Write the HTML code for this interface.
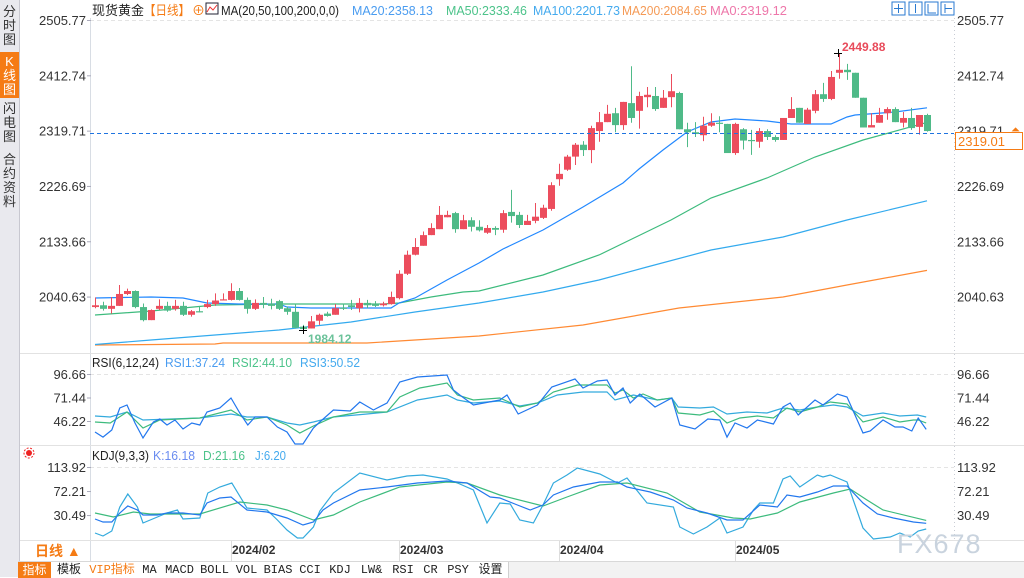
<!DOCTYPE html>
<html><head><meta charset="utf-8">
<style>
body{margin:0;width:1024px;height:577px;overflow:hidden;background:#fff;font-family:"Liberation Sans","Noto Sans CJK SC",sans-serif;position:relative}
.side{position:absolute;left:0;top:0;width:19px;height:577px;background:#e9e9ee;border-right:1px solid #c8c8d0}
.tab{position:absolute;left:0;width:19px;font-size:13px;line-height:14px;text-align:center;color:#333}
.tb{position:absolute;top:561px;height:16px;left:18px;right:0;background:#f2f2f2;border-top:1px solid #d8d8d8}
.cell{position:absolute;top:0;height:16px;font:12px "Liberation Mono","Noto Sans CJK SC",monospace;line-height:16px;text-align:center;color:#222;border-right:1px solid #d0d0d0;background:#fff}
svg text{font-family:"Liberation Sans","Noto Sans CJK SC",sans-serif}
</style></head><body>
<div class="side">
 <div class="tab" style="top:5px">分<br>时<br>图</div>
 <div class="tab" style="top:52px;height:46px;background:#f57b14;color:#fff;padding-top:3px;box-sizing:border-box">K<br>线<br>图</div>
 <div class="tab" style="top:102px">闪<br>电<br>图</div>
 <div class="tab" style="top:153px">合<br>约<br>资<br>料</div>
</div>
<div class="tb">
 <div class="cell" style="left:0;width:33px;background:#f57b14;color:#fff;font-family:'Noto Sans CJK SC',sans-serif">指标</div>
 <div class="cell" style="left:33px;width:36px">模板</div>
 <div class="cell" style="left:69px;width:50px;color:#f57b14">VIP指标</div>
 <div class="cell" style="left:119px;width:25px">MA</div>
 <div class="cell" style="left:144px;width:35px">MACD</div>
 <div class="cell" style="left:179px;width:35px">BOLL</div>
 <div class="cell" style="left:214px;width:29px">VOL</div>
 <div class="cell" style="left:243px;width:34px">BIAS</div>
 <div class="cell" style="left:277px;width:30px">CCI</div>
 <div class="cell" style="left:307px;width:30px">KDJ</div>
 <div class="cell" style="left:337px;width:33px">LW&amp;</div>
 <div class="cell" style="left:370px;width:30px">RSI</div>
 <div class="cell" style="left:400px;width:25px">CR</div>
 <div class="cell" style="left:425px;width:30px">PSY</div>
 <div class="cell" style="left:455px;width:35px">设置</div>
</div>
<svg id="chart" width="1024" height="561" style="position:absolute;left:0;top:0">
 <g id="frame">
  <line x1="90.5" y1="18" x2="90.5" y2="541" stroke="#d8dde4"/>
  <line x1="954.5" y1="18" x2="954.5" y2="541" stroke="#c8ccd4" stroke-dasharray="1,3"/>
  <line x1="20" y1="353.5" x2="1024" y2="353.5" stroke="#e2e2e2"/>
  <line x1="20" y1="445.5" x2="1024" y2="445.5" stroke="#e2e2e2"/>
  <line x1="20" y1="540.5" x2="1024" y2="540.5" stroke="#e2e2e2"/>
  <line x1="90" y1="20.5" x2="954" y2="20.5" stroke="#e4e4e4" stroke-dasharray="4,3"/>
  <line x1="90" y1="374.5" x2="954" y2="374.5" stroke="#e4e4e4" stroke-dasharray="4,3"/>
  <line x1="90" y1="467.5" x2="954" y2="467.5" stroke="#e4e4e4" stroke-dasharray="4,3"/>
 </g>
 <g font-size="13" fill="#222">
  <text x="92" y="15" textLength="52" lengthAdjust="spacingAndGlyphs">现货黄金</text>
  <text x="144" y="15" fill="#f57b14" textLength="46" lengthAdjust="spacingAndGlyphs">【日线】</text>
  <text x="192" y="15" fill="#f57b14">⊕</text>
  <rect x="206" y="3" width="12" height="11" fill="#fff" stroke="#223"/>
  <polyline points="207,12 210,7 213,10 217,5" fill="none" stroke="#e33" stroke-width="1"/>
  <text x="221" y="15" textLength="118" lengthAdjust="spacingAndGlyphs">MA(20,50,100,200,0,0)</text>
  <text x="352" y="15" fill="#4a9cf0" textLength="81" lengthAdjust="spacingAndGlyphs">MA20:2358.13</text>
  <text x="446" y="15" fill="#4cc38a" textLength="81" lengthAdjust="spacingAndGlyphs">MA50:2333.46</text>
  <text x="533" y="15" fill="#44aaee" textLength="87" lengthAdjust="spacingAndGlyphs">MA100:2201.73</text>
  <text x="622" y="15" fill="#f59a55" textLength="85" lengthAdjust="spacingAndGlyphs">MA200:2084.65</text>
  <text x="710" y="15" fill="#ee77aa" textLength="77" lengthAdjust="spacingAndGlyphs">MA0:2319.12</text>
  <text x="92" y="367" textLength="67" lengthAdjust="spacingAndGlyphs">RSI(6,12,24)</text>
  <text x="165" y="367" fill="#4a9cf0" textLength="60" lengthAdjust="spacingAndGlyphs">RSI1:37.24</text>
  <text x="232" y="367" fill="#4cc38a" textLength="60" lengthAdjust="spacingAndGlyphs">RSI2:44.10</text>
  <text x="300" y="367" fill="#44aaee" textLength="60" lengthAdjust="spacingAndGlyphs">RSI3:50.52</text>
  <text x="92" y="460" textLength="57" lengthAdjust="spacingAndGlyphs">KDJ(9,3,3)</text>
  <text x="153" y="460" fill="#6a8cf0" textLength="42" lengthAdjust="spacingAndGlyphs">K:16.18</text>
  <text x="203" y="460" fill="#4cc38a" textLength="42" lengthAdjust="spacingAndGlyphs">D:21.16</text>
  <text x="255" y="460" fill="#44aaee" textLength="31" lengthAdjust="spacingAndGlyphs">J:6.20</text>
 </g>
 <g><circle cx="29" cy="453" r="3" fill="#e22"/><circle cx="29" cy="453" r="5" fill="none" stroke="#e22" stroke-dasharray="2,1.5"/></g>
 <g fill="none" stroke="#2a7ad0">
  <rect x="892" y="2" width="13" height="13"/><rect x="909" y="2" width="13" height="13"/><rect x="925" y="2" width="13" height="13"/><rect x="941" y="2" width="13" height="13"/>
  <path d="M898.5 4v9M894 8.5h9M915.5 4v9M928 4v9h8M945 4v9M945 8.5h7"/>
 </g>
 <g id="axes" font-size="13" fill="#333"></g>
 <g id="dates" font-size="12" font-weight="bold" fill="#333"></g>
 <g id="mas"></g>
 <g id="candles"></g>
 <g id="ind"></g>
 <line x1="90" y1="133.5" x2="954" y2="133.5" stroke="#1f74e0" stroke-dasharray="4,3"/>
 <rect x="955.5" y="132.5" width="67" height="17" fill="#fff" stroke="#f57b14"/>
 <text x="958" y="146" font-size="13" fill="#f57b14">2319.01</text>
 <text x="1011" y="133" font-size="11" fill="#f57b14">⏶</text>
 <text x="842" y="51" font-size="12" font-weight="bold" fill="#e84a5a">2449.88</text>
 <text x="308" y="343" font-size="12" font-weight="bold" fill="#6cc29a">1984.12</text>
 <path d="M834 53.5h8M838.5 49v8M299 330.5h8M303.5 326v8" stroke="#000"/>
 <text x="897" y="553" font-size="27" fill="#c9d3de" letter-spacing="1">FX678</text>
 <text x="35" y="556" font-size="14" font-weight="bold" fill="#f57b14">日线 ▲</text>
 <line x1="90.5" y1="541" x2="90.5" y2="561" stroke="#d8dde4"/>
</svg>
<script>
const opens=[2023,2026,2020,2025,2045,2050,2023,2001,2020,2025,2020,2025,2010,2016,2023,2028,2034,2035,2050,2035,2020,2030,2029,2033,2021,2015,1990,1987,2000,2012,2010,2022,2026,2021,2030,2029,2026,2028,2038,2079,2111,2126,2144,2154,2174,2181,2154,2169,2158,2148,2156,2153,2183,2178,2161,2168,2173,2188,2238,2254,2276,2296,2287,2319,2334,2349,2329,2366,2353,2376,2378,2358,2376,2383,2322,2317,2312,2328,2333,2331,2282,2322,2304,2301,2319,2309,2304,2341,2358,2331,2353,2381,2373,2417,2422,2417,2375,2325,2333,2349,2356,2333,2341,2326,2346];
const closes=[2026,2020,2025,2045,2050,2023,2001,2018,2025,2017,2025,2010,2016,2014,2028,2034,2036,2050,2035,2020,2030,2027,2025,2020,2015,1988,1986,1999,2010,2008,2021,2020,2023,2030,2026,2025,2029,2040,2079,2111,2124,2144,2156,2178,2178,2154,2169,2158,2152,2156,2153,2181,2176,2161,2168,2175,2190,2228,2247,2276,2296,2287,2324,2334,2348,2329,2368,2341,2378,2380,2356,2375,2386,2322,2317,2314,2328,2333,2331,2282,2331,2303,2302,2319,2309,2304,2341,2356,2333,2355,2381,2373,2410,2422,2418,2375,2325,2329,2346,2356,2334,2341,2324,2346,2319.01];
const highs=[2039,2032,2040,2060,2054,2051,2029,2019,2036,2032,2035,2032,2018,2024,2035,2046,2046,2063,2055,2039,2036,2040,2037,2035,2024,2029,1993,2008,2012,2015,2028,2029,2035,2038,2035,2033,2032,2049,2085,2118,2139,2150,2164,2193,2185,2183,2178,2174,2169,2161,2159,2186,2220,2183,2178,2198,2195,2233,2264,2279,2299,2302,2328,2351,2363,2358,2368,2428,2385,2393,2393,2388,2415,2385,2333,2334,2343,2349,2344,2331,2333,2324,2321,2324,2322,2312,2341,2376,2358,2358,2388,2400,2420,2449.88,2432,2417,2375,2349,2358,2359,2359,2351,2358,2346,2348];
const lows=[2021,2017,2012,2025,2043,2021,1999,2001,2018,2015,2017,2008,2007,2014,2021,2025,2034,2034,2034,2012,2018,2021,2019,2018,2010,1987,1984.12,1987,1993,2007,2010,2018,2018,2014,2021,2023,2024,2027,2036,2077,2110,2126,2144,2154,2174,2148,2154,2150,2150,2146,2144,2148,2165,2156,2161,2164,2171,2185,2227,2252,2262,2277,2265,2301,2334,2317,2321,2333,2323,2359,2353,2358,2359,2322,2292,2309,2302,2326,2317,2282,2279,2288,2279,2291,2304,2301,2304,2341,2333,2331,2349,2368,2371,2407,2405,2375,2325,2325,2333,2338,2334,2325,2321,2313,2318];
const ma20Idx=[0,7,11,14,18,23,24,27,37,38,40,44,48,51,56,61,66,68,71,74,77,80,84,87,92,94,95,100,104];
const ma20Val=[2038.2,2039.9,2038.2,2029.8,2028.1,2028.1,2023.1,2021.4,2021.4,2029.8,2038.2,2068.5,2097.1,2120.6,2152.6,2191.3,2231.6,2255.2,2287.1,2317.4,2334.2,2339.3,2335.9,2330.9,2330.9,2342.6,2346.0,2351.0,2358.1];
const ma50Idx=[0,7,11,15,23,36,38,42,46,48,56,63,72,77,84,90,96,104];
const ma50Val=[2009.6,2016.4,2021.4,2026.5,2028.1,2028.1,2029.8,2039.9,2048.3,2050.0,2076.9,2110.5,2169.4,2206.4,2240.0,2275.4,2303.9,2333.5];
const ma100Idx=[0,7,15,23,32,40,48,56,63,69,77,86,94,104];
const ma100Val=[1960.0,1967.6,1976.0,1984.4,1997.9,2014.7,2029.8,2048.3,2068.5,2090.4,2118.9,2140.8,2169.4,2201.7];
const ma200Idx=[0,15,16,34,40,48,61,73,86,94,104];
const ma200Val=[1959.2,1960.9,1962.6,1962.6,1967.6,1974.3,1992.8,2021.4,2039.9,2060.1,2084.6];
const rsi1Idx=[0,1,2.1,3.1,4,5,6,7.3,8.1,9,10,11,12.1,13.1,14,15.6,17,18.1,19.1,20,21.5,22.8,24,25,26,27.3,28.1,29.8,31.9,33.1,34.8,36.5,38.1,40.3,44,44.8,45.6,47.3,50.6,51.5,52.9,55.3,57.1,60,61,62.8,64,65,66,66.9,68.1,70,72.1,73.1,75,76.6,78.1,79,80,81.5,82.8,84.8,86,86.9,87.9,90,91,92.8,94,96,96.9,98.5,100,101,102.1,102.9,103.9];
const rsi1Val=[34.4,29.0,36.6,60.2,63.4,44.1,28.0,45.2,48.4,41.9,47.3,37.6,44.1,41.9,55.9,60.2,70.9,54.8,41.9,50.5,50.5,39.8,34.4,21.6,21.6,38.7,45.2,58.0,57.0,66.6,58.0,65.5,88.1,93.4,95.6,79.5,74.1,63.4,68.8,74.1,53.7,63.4,82.7,91.3,81.6,89.1,90.2,74.1,81.6,65.5,75.2,61.3,70.9,41.9,37.6,48.4,47.3,29.0,44.1,38.7,47.3,43.0,61.3,65.5,52.7,68.8,63.4,75.2,72.0,33.4,35.5,47.3,39.8,39.8,35.5,49.5,37.2];
const rsi2Idx=[0,1.9,4,6,8.1,13.1,17,19,21.5,24,25.6,27.3,29.8,33.1,36.5,38.1,40.6,44,45.3,47.3,50.6,53.1,55.3,57.3,60.3,64,65,66,67.3,68.5,70.3,72.1,72.9,75.6,77.3,79,80.6,82.8,84.8,86.5,88.1,90.3,91.9,94,96,98.5,100.6,102.3,102.9,103.9];
const rsi2Val=[45.2,44.1,55.9,38.7,47.3,49.5,58.0,47.3,50.5,41.9,33.4,40.9,50.5,55.9,55.9,72.0,81.6,87.0,74.1,68.8,70.9,61.3,65.5,77.3,84.9,84.9,76.3,79.5,70.9,75.2,68.8,70.9,54.8,52.7,57.0,44.1,49.5,51.6,49.5,60.2,55.9,61.3,66.6,64.5,45.2,50.5,45.2,47.3,47.3,44.1];
const rsi3Idx=[0,1.9,4,6,13.1,17,19,21.5,24,25.6,27.3,29.8,34,36.5,40.3,44,45.3,47.3,50.6,53.1,55.3,57.8,61,64,65,67.3,70.3,72.1,72.9,75.6,77.3,79,81.5,84,86,88.1,90.3,92.3,94,96,98.5,100.6,102.8,103.9];
const rsi3Val=[51.6,50.5,55.9,47.3,49.5,53.7,50.5,50.5,44.1,41.9,45.2,50.5,53.7,55.9,68.8,74.1,68.8,65.5,67.7,62.3,65.5,74.1,77.3,77.3,68.8,74.1,68.8,70.9,61.3,60.2,61.3,53.7,55.9,54.8,60.2,58.0,61.3,63.4,61.3,51.6,54.8,51.6,52.7,50.5];
const kIdx=[0,1,2.1,3.1,4.1,5.3,6,7.8,9,11,13.1,14,15.6,17,19,21.5,24,26,27.3,28.5,29.8,33.1,36.5,40.3,44,46.5,49.4,50.6,52.8,54.4,56,57.3,59.8,63.1,65.3,66.5,69.4,72.3,74,76.5,79,81,83.1,85.3,86.5,88.1,90.3,92.3,94,96,97.8,99.8,102.3,103.9];
const kVal=[23.6,18.5,18.5,34.1,46.2,39.3,30.6,30.6,34.1,34.1,30.6,51.4,60.1,61.9,39.3,35.8,25.4,13.2,18.5,39.3,51.4,74.0,79.2,86.1,89.6,86.1,61.9,60.1,47.9,39.3,47.9,65.3,79.2,87.9,87.9,79.2,70.5,56.6,42.7,34.1,21.9,21.9,47.9,44.5,65.3,61.9,70.5,80.9,80.9,51.4,32.3,25.4,18.5,16.2];
const dIdx=[0,2.3,4.8,6.9,13.1,18.1,21.5,24,27.3,29.8,33.1,38.1,44,46.5,50.6,56,59,63.1,66.5,71.5,75.6,79.8,81.9,85.3,88.1,92.3,94.4,96.5,98.5,103.9];
const dVal=[34.1,27.1,35.8,32.3,32.3,53.2,47.9,39.3,21.9,30.6,53.2,79.2,87.9,86.1,65.3,46.2,61.9,82.7,86.1,68.8,35.8,25.4,23.6,34.1,53.2,68.8,75.7,56.6,39.3,21.2];
const jIdx=[0,1,2.1,3.1,4.1,5.3,6,7.8,9,10.3,11,13.1,14.1,15.6,17.1,19,21.5,22.8,24,25.3,26,27.3,28.1,29.8,33.1,36.5,39,41,44,45.6,47.3,49,50.6,51.9,53.1,54.8,56,57.3,59,60.3,63.1,65.3,66.5,69,72.3,73.1,74.8,76.5,78.1,79,81,82.3,83.1,84.8,86,86.9,88.1,90.3,91,91.9,94,96,97.3,99.4,100.6,101.9,102.9,103.9];
const jVal=[-0.7,-5.9,2.8,44.5,67.0,44.5,16.7,27.1,34.1,39.3,23.6,25.4,68.8,79.2,86.1,42.7,39.3,21.9,4.5,-9.3,-9.3,9.8,37.5,68.8,103.5,91.3,98.3,100.0,93.1,84.4,74.0,16.7,51.4,49.7,21.9,16.7,47.9,86.1,100.0,112.2,101.8,86.1,94.8,51.4,44.5,9.8,-2.4,9.8,25.4,-0.7,9.8,39.3,51.4,51.4,93.1,98.3,79.2,100.0,96.6,100.0,87.9,8.0,-11.1,-7.6,-0.7,-7.6,2.8,6.2];
const priceTicks=[2505.77,2412.74,2319.71,2226.69,2133.66,2040.63];
const rsiTicks=[96.66,71.44,46.22];
const kdjTicks=[113.92,72.21,30.49];
const dateLabels=["2024/02","2024/03","2024/04","2024/05"];
const dateIdx=[17,38,58,80];

const NS="http://www.w3.org/2000/svg";
const xI=i=>95+8*i;
const yP=p=>20+(2505.77-p)*0.5946;
const yR=v=>374+(96.66-v)*0.932;
const yK=v=>467+(113.92-v)*0.576;
function mk(tag,attrs,parent){const e=document.createElementNS(NS,tag);for(const k in attrs)e.setAttribute(k,attrs[k]);parent.appendChild(e);return e;}
const axes=document.getElementById('axes');
function tick(v,y){
  const t1=mk('text',{x:86,y:y+5,'text-anchor':'end'},axes);t1.textContent=v.toFixed(2);
  
  
  const t2=mk('text',{x:957,y:y+5},axes);t2.textContent=v.toFixed(2);
  
  
  mk('line',{x1:87,y1:y+0.5,x2:91,y2:y+0.5,stroke:'#aab'},axes);
}
priceTicks.forEach(v=>tick(v,yP(v)));
rsiTicks.forEach(v=>tick(v,yR(v)));
kdjTicks.forEach(v=>tick(v,yK(v)));
const dates=document.getElementById('dates');
dateLabels.forEach((d,k)=>{
  const x=xI(dateIdx[k]);
  mk('line',{x1:x+0.5,y1:541,x2:x+0.5,y2:561,stroke:'#ddd'},dates);
  const t=mk('text',{x:x+1,y:554},dates);t.textContent=d;
  
  
});
const cg=document.getElementById('candles');
for(let i=0;i<opens.length;i++){
  const up=closes[i]>=opens[i];const col=up?'#ec4d5d':'#4fba88';
  const x=xI(i);
  const g=mk('g',{},cg);
  
  
  mk('line',{x1:x+0.5,x2:x+0.5,y1:yP(highs[i]),y2:yP(lows[i]),stroke:col,'stroke-width':1},g);
  const top=yP(Math.max(opens[i],closes[i])),bot=yP(Math.min(opens[i],closes[i]));
  mk('rect',{x:x-3,y:top,width:7,height:Math.max(1,bot-top),fill:col},g);
}
function line(idx,val,yf,col,name,parent){
  const pts=idx.map((i,k)=>xI(i).toFixed(1)+','+yf(val[k]).toFixed(1)).join(' ');
  const p=mk('polyline',{points:pts,fill:'none',stroke:col,'stroke-width':1.2},parent);
  
  
}
const mg=document.getElementById('mas');
line(ma200Idx,ma200Val,yP,'#ff8a33','ma200-line',mg);
line(ma100Idx,ma100Val,yP,'#33aaee','ma100-line',mg);
line(ma50Idx,ma50Val,yP,'#3dbb7d','ma50-line',mg);
line(ma20Idx,ma20Val,yP,'#2288ff','ma20-line',mg);
const ig=document.getElementById('ind');
line(rsi3Idx,rsi3Val,yR,'#33aadd','rsi3-line',ig);
line(rsi2Idx,rsi2Val,yR,'#3dbb7d','rsi2-line',ig);
line(rsi1Idx,rsi1Val,yR,'#2277ee','rsi1-line',ig);
line(jIdx,jVal,yK,'#33aadd','j-line',ig);
line(dIdx,dVal,yK,'#3dbb7d','d-line',ig);
line(kIdx,kVal,yK,'#2277ee','k-line',ig);
</script>
</body></html>
